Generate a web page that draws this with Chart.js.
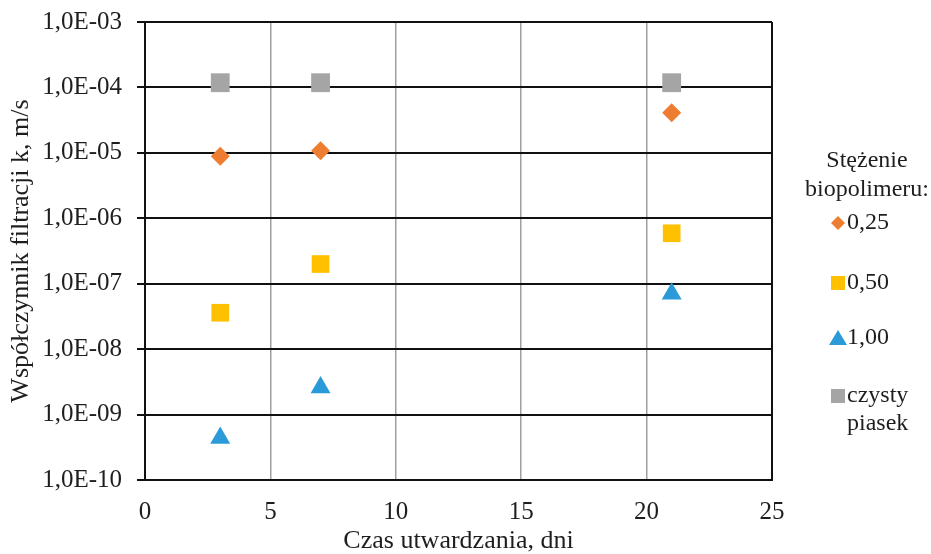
<!DOCTYPE html>
<html>
<head>
<meta charset="utf-8">
<script src="https://cdn.jsdelivr.net/npm/chart.js@4/dist/chart.umd.min.js"></script>
<style>
  html, body { margin: 0; background: #fff; }
</style>
</head>
<body>
<canvas id="myChart" width="931" height="554"></canvas>
<script>
// values (log scale, so estimates)
const days = [3, 7, 21];
const k025 = [8.9e-6, 1.08e-5, 4.1e-5];
const k050 = [3.6e-8, 2.0e-7, 5.9e-7];
const k100 = [4.4e-10, 2.6e-9, 7.0e-8];
const kSand = [1.18e-4, 1.18e-4, 1.18e-4];

const seriesLabels = ['0,25', '0,50', '1,00', ['czysty', 'piasek']];
const legendTitle = ['Stężenie', 'biopolimeru:'];

const xTicks = [0, 5, 10, 15, 20, 25];
const yTicks = [1e-10, 1e-9, 1e-8, 1e-7, 1e-6, 1e-5, 1e-4, 1e-3];
const yTickLabels = ['1,0E-10', '1,0E-09', '1,0E-08', '1,0E-07', '1,0E-06', '1,0E-05', '1,0E-04', '1,0E-03'];

const FONT = '"Liberation Serif", "Times New Roman", serif';
const TEXT = '#1e1e1e';

function pts(ys) {
  return days.map((d, i) => ({ x: d, y: ys[i] }));
}

// legend on the right, drawn by hand because of the two-line labels
const sideLegend = {
  id: 'sideLegend',
  afterDraw(chart) {
    const { ctx, chartArea } = chart;
    const cx = chartArea.right + 95;
    ctx.save();
    ctx.font = '24px ' + FONT;
    ctx.fillStyle = TEXT;
    ctx.textAlign = 'center';
    ctx.textBaseline = 'middle';
    legendTitle.forEach((t, i) => ctx.fillText(t, cx, 161 + i * 29));

    const rows = [223, 283, 338, 396];
    const mx = chartArea.right + 66;
    chart.data.datasets.forEach((ds, i) => {
      const y = rows[i];
      const lines = Array.isArray(ds.label) ? ds.label : [ds.label];
      const w = Math.max(...lines.map(l => ctx.measureText(l).width));
      ctx.fillStyle = ds.backgroundColor;
      ctx.beginPath();
      if (ds.pointStyle === 'rectRot') {
        ctx.moveTo(mx, y - 7); ctx.lineTo(mx + 7, y); ctx.lineTo(mx, y + 7); ctx.lineTo(mx - 7, y);
      } else if (ds.pointStyle === 'triangle') {
        ctx.moveTo(mx, y - 8); ctx.lineTo(mx + 9, y + 7); ctx.lineTo(mx - 9, y + 7);
      } else {
        ctx.rect(mx - 7, y - 7, 14, 14);
      }
      ctx.closePath();
      ctx.fill();
      ctx.fillStyle = TEXT;
      const tx = mx + 9 + w / 2;
      lines.forEach((l, j) => ctx.fillText(l, tx, y + j * 28));
    });
    ctx.restore();
  }
};

new Chart(document.getElementById('myChart'), {
  type: 'scatter',
  data: {
    datasets: [
      { label: seriesLabels[0], data: pts(k025), pointStyle: 'rectRot', pointRadius: 9.5,
        backgroundColor: '#ED7D31', borderColor: '#ED7D31', borderWidth: 0 },
      { label: seriesLabels[1], data: pts(k050), pointStyle: 'rect', pointRadius: 12.5,
        backgroundColor: '#FFC000', borderColor: '#FFC000', borderWidth: 0 },
      { label: seriesLabels[2], data: pts(k100), pointStyle: 'triangle', pointRadius: 11.5,
        backgroundColor: '#2A9BD8', borderColor: '#2A9BD8', borderWidth: 0 },
      { label: seriesLabels[3], data: pts(kSand), pointStyle: 'rect', pointRadius: 13.3,
        backgroundColor: '#A5A5A5', borderColor: '#A5A5A5', borderWidth: 0 }
    ]
  },
  options: {
    responsive: false,
    animation: false,
    devicePixelRatio: 1,
    layout: { padding: { left: 0, right: 159, top: 22, bottom: 0 } },
    plugins: {
      legend: { display: false },
      tooltip: { enabled: false }
    },
    scales: {
      x: {
        type: 'linear',
        min: 0,
        max: 25,
        afterBuildTicks: s => { s.ticks = xTicks.map(v => ({ value: v })); },
        afterFit: s => { s.height = 74; },
        ticks: { font: { family: FONT, size: 25 }, color: TEXT, padding: 17 },
        grid: {
          color: c => (c.tick && (c.tick.value === 0 || c.tick.value === 25)) ? '#111' : '#a0a0a0',
          lineWidth: c => (c.tick && (c.tick.value === 0 || c.tick.value === 25)) ? 2 : 1.5,
          drawTicks: false
        },
        border: { color: '#111', width: 2 },
        title: {
          display: true,
          text: 'Czas utwardzania, dni',
          font: { family: FONT, size: 26, lineHeight: 1 },
          color: TEXT,
          padding: { top: 0, bottom: 0 }
        }
      },
      y: {
        type: 'logarithmic',
        min: 1e-10,
        max: 1e-3,
        afterBuildTicks: s => { s.ticks = yTicks.map(v => ({ value: v })); },
        afterFit: s => { s.width = 145; s.paddingTop = 0; s.paddingBottom = 0; },
        ticks: {
          font: { family: FONT, size: 25 },
          color: TEXT,
          padding: 15,
          callback: (v) => yTickLabels[yTicks.findIndex(t => Math.abs(Math.log10(t) - Math.log10(v)) < 1e-6)]
        },
        grid: { color: '#111', lineWidth: 2, tickLength: 8, tickColor: '#111' },
        border: { color: '#111', width: 2 },
        title: {
          display: true,
          text: 'Współczynnik filtracji k, m/s',
          font: { family: FONT, size: 26 },
          color: TEXT,
          padding: { top: 6, bottom: 0 }
        }
      }
    }
  },
  plugins: [sideLegend]
});
</script>
</body>
</html>
